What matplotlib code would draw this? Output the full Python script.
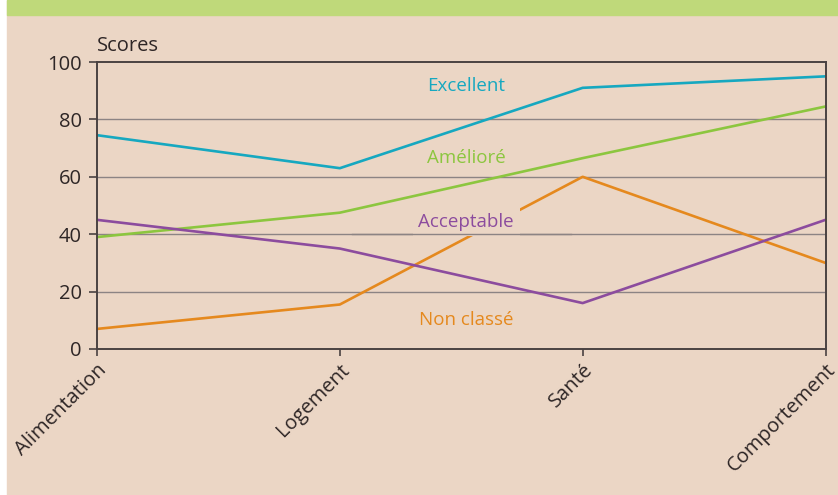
import matplotlib
matplotlib.use('Agg')
import matplotlib.pyplot as plt
from matplotlib.patches import Rectangle
from matplotlib.transforms import ScaledTranslation

categories = ['Alimentation', 'Logement', 'Santé', 'Comportement']
excellent = [74.5, 63, 91, 95]
ameliore = [39, 47.5, 66.5, 84.5]
acceptable = [45, 35, 16, 45]
non_classe = [7, 15.5, 60, 30]
yticks = [0, 20, 40, 60, 80, 100]

bg = '#ebd6c5'
txt = '#2e2626'
plt.rcParams['font.family'] = ['Open Sans', 'DejaVu Sans']

fig = plt.figure(figsize=(8.38, 4.95), dpi=100)
fig.patch.set_facecolor('white')
fig.patches.append(Rectangle((7 / 838, 0), 1, 1, transform=fig.transFigure, color=bg, zorder=-2))
fig.patches.append(Rectangle((7 / 838, 1 - 15 / 495), 1, 15 / 495, transform=fig.transFigure,
                             color='#bfd97a', zorder=-1))

ax = fig.add_axes([97 / 838, 1 - 349 / 495, 728.5 / 838, 287 / 495])
ax.set_facecolor(bg)
x = range(len(categories))

for v in [20, 40, 60, 80]:
    ax.axhline(v, color='#8c8484', lw=1.0, zorder=1)

ax.plot(x, non_classe, color='#e5891e', lw=1.9, zorder=2, solid_capstyle='butt')
ax.plot(x, excellent, color='#16a8c0', lw=1.9, zorder=3)
ax.plot(x, ameliore, color='#8cc63f', lw=1.9, zorder=3)
ax.plot(x, acceptable, color='#8c4c9e', lw=1.9, zorder=3)

fs = 13.5
ax.text(1.52, 91.5, 'Excellent', color='#16a8c0', fontsize=fs, ha='center', va='center', zorder=4)
ax.text(1.52, 66.5, 'Amélioré', color='#8cc63f', fontsize=fs, ha='center', va='center', zorder=4)
# beige box under "Acceptable" breaks the orange line like in the source
ax.text(1.52, 44.3, 'Acceptable', color='#8c4c9e', fontsize=fs, ha='center', va='center', zorder=2.5,
        bbox=dict(boxstyle='square,pad=0.3', fc=bg, ec='none'))
ax.axhline(40, xmin=0.35, xmax=0.65, color='#8c8484', lw=1.0, zorder=2.6)
ax.text(1.52, 10, 'Non classé', color='#e5891e', fontsize=fs, ha='center', va='center', zorder=4)

ax.text(0, 1.02, 'Scores', transform=ax.transAxes, fontsize=14.5, color=txt, ha='left', va='bottom')

ax.set_xlim(0, 3)
ax.set_ylim(0, 100)
ax.set_yticks(yticks)
ax.set_yticklabels([str(v) for v in yticks], fontsize=14.5, color=txt)
ax.set_xticks(list(x))
ax.set_xticklabels(categories, fontsize=14.5, color=txt, rotation=45, ha='right', va='top',
                   rotation_mode='anchor')
offset = ScaledTranslation(9 / 100, -7 / 100, fig.dpi_scale_trans)
for lab in ax.get_xticklabels():
    lab.set_transform(lab.get_transform() + offset)

ax.tick_params(axis='y', length=6, width=1.2, color='#4a4242', pad=5)
ax.tick_params(axis='x', length=5, width=1.2, color='#4a4242', pad=3)
for s in ax.spines.values():
    s.set_color('#4a4242')
    s.set_linewidth(1.4)
    s.set_zorder(5)

fig.savefig('out.png', dpi=100, facecolor=fig.get_facecolor())
